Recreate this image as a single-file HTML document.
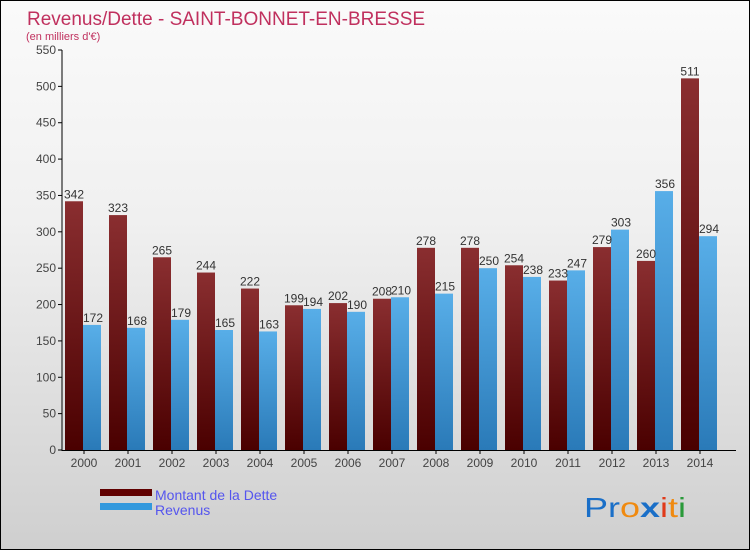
<!DOCTYPE html>
<html><head><meta charset="utf-8">
<style>
body{margin:0;}
#c{position:relative;width:748px;height:548px;border:1px solid #000;background:linear-gradient(#fafafa,#f0f0f0 40%,#cfcfcf);font-family:"Liberation Sans",sans-serif;overflow:hidden;}
</style></head><body>
<div id="c">
<svg id="s" width="748" height="548">
<defs>
<linearGradient id="gd" x1="0" y1="0" x2="0" y2="1"><stop offset="0" stop-color="#8a2e30"/><stop offset="1" stop-color="#4a0000"/></linearGradient>
<linearGradient id="gr" x1="0" y1="0" x2="0" y2="1"><stop offset="0" stop-color="#58aee8"/><stop offset="1" stop-color="#2a7ab8"/></linearGradient>
</defs>
<text x="26" y="24" font-size="19" fill="#c0305e">Revenus/Dette - SAINT-BONNET-EN-BRESSE</text>
<text x="25" y="39" font-size="11" fill="#c0305e">(en milliers d'€)</text>
<g id="plot"></g>
<rect x="99" y="488" width="52" height="7" fill="#600000"/>
<rect x="99" y="502" width="52" height="7" fill="#3399dd"/>
<text x="154" y="499" font-size="14" fill="#5555ee">Montant de la Dette</text>
<text x="154" y="514" font-size="14" fill="#5555ee">Revenus</text>
<text x="583" y="516" font-size="28" textLength="102" lengthAdjust="spacingAndGlyphs"><tspan fill="#1a6fc8">Pr</tspan><tspan fill="#f08a10">o</tspan><tspan fill="#1a6fc8" font-weight="bold">x</tspan><tspan fill="#e03a1a">i</tspan><tspan fill="#f08a10">t</tspan><tspan fill="#2a9a3a">i</tspan></text>
</svg>
</div>
<script>
const years=["2000","2001","2002","2003","2004","2005","2006","2007","2008","2009","2010","2011","2012","2013","2014"];
const dette=[342,323,265,244,222,199,202,208,278,278,254,233,279,260,511];
const revenus=[172,168,179,165,163,194,190,210,215,250,238,247,303,356,294];
const ticks=[0,50,100,150,200,250,300,350,400,450,500,550];
const NS="http://www.w3.org/2000/svg";
const g=document.getElementById('plot');
const y=v=>449-v*400/550;
const x0=i=>61+44*i;
function mk(t,a){const e=document.createElementNS(NS,t);for(const k in a)e.setAttribute(k,a[k]);g.appendChild(e);return e;}
ticks.forEach(t=>{
 const l=mk('line',{x1:57,x2:61,y1:y(t),y2:y(t),stroke:'#000'});
 
 
 const tx=mk('text',{x:55,y:y(t)+4,'text-anchor':'end','font-size':12,fill:'#444'});tx.textContent=t;
 
 
});
years.forEach((yr,i)=>{
 const b1=mk('rect',{x:x0(i)+3,y:y(dette[i]),width:18,height:449-y(dette[i]),fill:'url(#gd)'});
 
 
 const b2=mk('rect',{x:x0(i)+21,y:y(revenus[i]),width:18,height:449-y(revenus[i]),fill:'url(#gr)'});
 
 
 const t1=mk('text',{x:x0(i)+12,y:y(dette[i])-3,'text-anchor':'middle','font-size':12,fill:'#333'});t1.textContent=dette[i];
 
 
 const t2=mk('text',{x:x0(i)+31,y:y(revenus[i])-3,'text-anchor':'middle','font-size':12,fill:'#333'});t2.textContent=revenus[i];
 
 
 const xt=mk('line',{x1:x0(i)+22,x2:x0(i)+22,y1:449,y2:453,stroke:'#000'});
 
 
 const xl=mk('text',{x:x0(i)+22,y:466,'text-anchor':'middle','font-size':12,fill:'#444'});xl.textContent=yr;
 
 
});
const ya=mk('line',{x1:61,x2:61,y1:49,y2:450,stroke:'#000'});


const xa=mk('line',{x1:61,x2:735,y1:449.5,y2:449.5,stroke:'#000'});


</script>
</body></html>
